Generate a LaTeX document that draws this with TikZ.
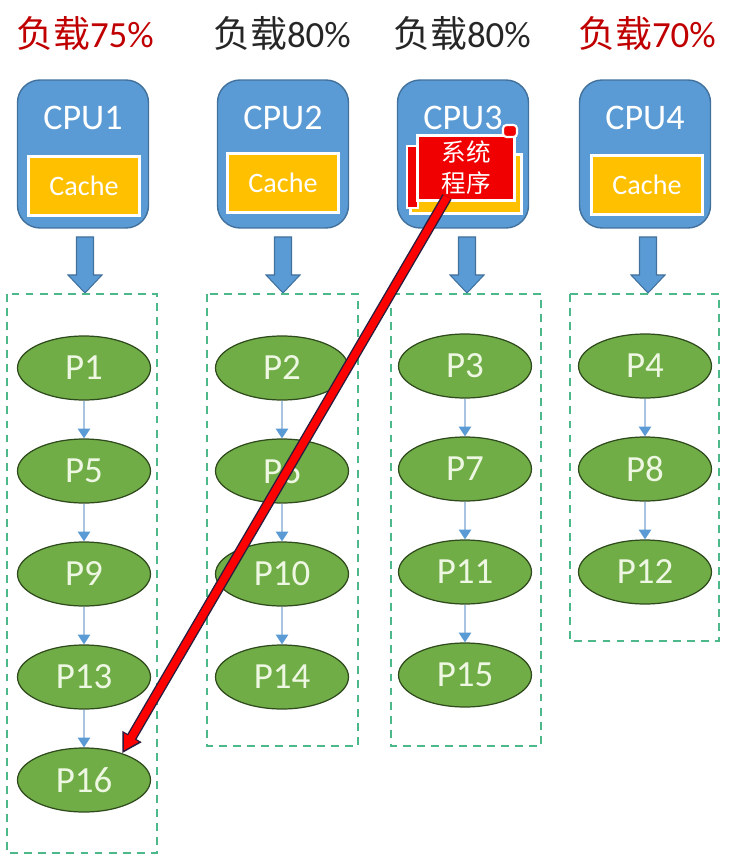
\documentclass[tikz,border=0pt]{standalone}
\usepackage{fontspec}
\setmainfont{Carlito}
\newfontfamily\cjk{Noto Sans CJK SC}
\usetikzlibrary{shapes.geometric,arrows.meta}

\definecolor{cpublue}{HTML}{5B9BD5}
\definecolor{cpuedge}{HTML}{41719C}
\definecolor{cacheyellow}{HTML}{FFC000}
\definecolor{procgreen}{HTML}{70AD47}
\definecolor{procedge}{HTML}{2F4A1C}
\definecolor{proctext}{HTML}{EEF7E2}
\definecolor{loadred}{HTML}{C00000}
\definecolor{loadgray}{HTML}{262626}
\definecolor{grpgreen}{HTML}{4DB88A}
\definecolor{flowblue}{HTML}{A9C4E0}
\definecolor{sysred}{HTML}{F00000}
\definecolor{arrowedge}{HTML}{2A1C3C}

\begin{document}
\begin{tikzpicture}[x=0.02cm,y=-0.02cm,
    load/.style={font=\fontsize{21}{25}\selectfont},
    cpu/.style={draw=cpuedge,fill=cpublue,line width=0.8pt,rounded corners=0.45cm,
        minimum width=2.62cm,minimum height=2.96cm},
    cpuname/.style={text=white,font=\fontsize{20.5}{24}\selectfont},
    cache/.style={draw=white,fill=cacheyellow,line width=1.2pt,minimum width=2.22cm,
        minimum height=1.18cm,text=white,font=\fontsize{16}{19}\selectfont},
    blockarr/.style={draw=cpuedge,fill=cpublue,line width=0.6pt},
    grp/.style={draw=grpgreen,dash pattern=on 4.5pt off 3.5pt,line width=0.9pt},
    proc/.style={ellipse,draw=procedge,fill=procgreen,line width=0.7pt,inner sep=0pt,
        minimum width=2.66cm,minimum height=1.28cm,text=proctext,
        font=\fontsize{21}{25}\selectfont},
    flow/.style={draw=flowblue,line width=0.7pt,-{Triangle[length=5.5pt,width=7pt,color=cpublue]}},
    scroll/.style={draw=white,fill=sysred,line width=1.2pt},
    sys/.style={scroll,line width=1.4pt,minimum width=1.94cm,minimum height=1.3cm,
        text=white,align=center,font=\cjk\fontsize{14}{17.5}\selectfont}]
    \useasboundingbox (0,0) rectangle (737,864);

    % 负载
    \node[load,text=loadred]  (load1) at (85,34)  {{\cjk 负载}75\%};
    \node[load,text=loadgray] (load2) at (282,34) {{\cjk 负载}80\%};
    \node[load,text=loadgray] (load3) at (462,34) {{\cjk 负载}80\%};
    \node[load,text=loadred]  (load4) at (647,34) {{\cjk 负载}70\%};

    % 四个CPU和Cache
    \node[cpu] (cpu1) at (83,154)  {};
    \node[cpu] (cpu2) at (283,154) {};
    \node[cpu] (cpu3) at (463,154) {};
    \node[cpu] (cpu4) at (645,154) {};
    \node[cpuname] (name1) at (83,118)  {CPU1};
    \node[cpuname] (name2) at (283,118) {CPU2};
    \node[cpuname] (name3) at (463,118) {CPU3};
    \node[cpuname] (name4) at (645,118) {CPU4};
    \node[cache] (cache1) at (84,186)  {Cache};
    \node[cache] (cache2) at (283,183) {Cache};
    \node[cache] (cache3) at (466,184) {};
    \node[cache] (cache4) at (647,185) {Cache};

    % 向下的箭头
    \foreach \x in {85,283,467,648}
        \filldraw[blockarr] (\x-8.5,237) -- (\x-8.5,275) -- (\x-17,275) -- (\x,293)
            -- (\x+17,275) -- (\x+8.5,275) -- (\x+8.5,237) -- cycle;

    % 虚线框
    \draw[grp] (7,294) rectangle (157,853);
    \draw[grp] (207,294) rectangle (358,746);
    \draw[grp] (391,294) rectangle (541,746);
    \draw[grp] (570,294) rectangle (719,641);

    % 进程
    \foreach \n/\x/\y in {1/84/368,5/84/471,9/84/574,13/84/677,16/84/780,
                          2/282/368,6/282/471,10/282/574,14/282/677,
                          3/465/366,7/465/469,11/465/572,15/465/675,
                          4/645/366,8/645/469,12/645/572}
        \node[proc] (p\n) at (\x,\y) {P\n};
    \foreach \a/\b in {1/5,5/9,9/13,13/16,2/6,6/10,10/14,3/7,7/11,11/15,4/8,8/12}
        \draw[flow] (p\a) -- (p\b);

    % 系统程序
    \filldraw[scroll] (407,146) rectangle (418,208);
    \node[sys] (sys) at (466,168) {系统\\程序};
    \filldraw[scroll,rounded corners=2pt] (503,125) rectangle (517,137);

    % 迁移
    \coordinate (pull) at (447,197);
    \draw[line width=6pt,draw=arrowedge,-{Triangle[length=11pt,width=12pt]}] (pull) -- (p16.35);
    \draw[line width=4.4pt,draw=red,shorten >=1.8pt,-{Triangle[length=8.5pt,width=9pt]}] (pull) -- (p16.35);
\end{tikzpicture}
\end{document}
